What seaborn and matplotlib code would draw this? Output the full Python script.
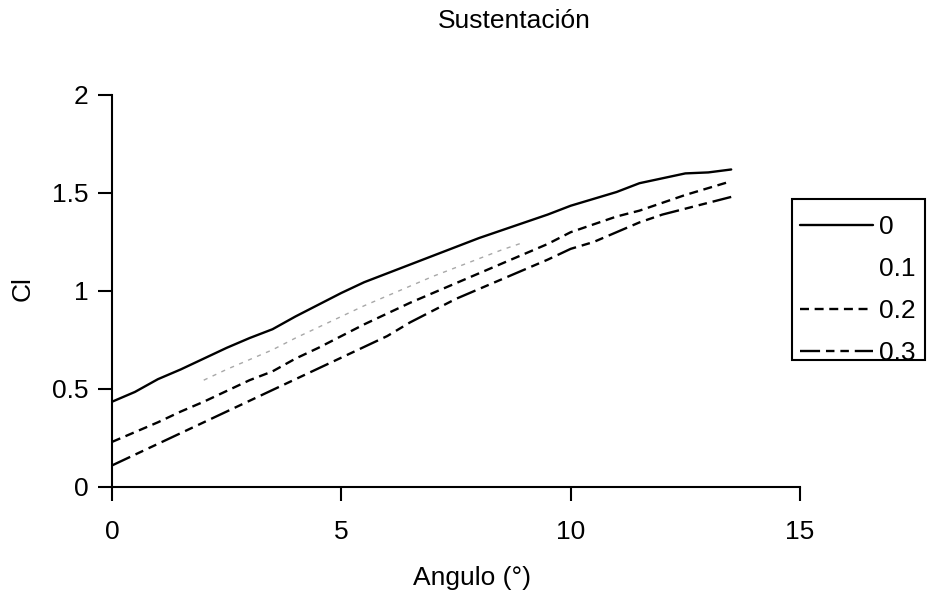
import numpy as np
import pandas as pd
import matplotlib
matplotlib.use("Agg")
import matplotlib.pyplot as plt
import seaborn as sns
from matplotlib.patches import Rectangle
from matplotlib.lines import Line2D

angles = [0, 0.5, 1, 1.5, 2, 2.5, 3, 3.5, 4, 4.5, 5, 5.5, 6, 6.5, 7, 7.5, 8,
          8.5, 9, 9.5, 10, 10.5, 11, 11.5, 12, 12.5, 13, 13.5]
cl_0 = [0.435, 0.485, 0.55, 0.60, 0.655, 0.71, 0.76, 0.805, 0.87, 0.93, 0.99,
        1.045, 1.09, 1.135, 1.18, 1.225, 1.27, 1.31, 1.35, 1.39, 1.435, 1.47,
        1.505, 1.55, 1.575, 1.60, 1.605, 1.62]
cl_01 = [np.nan, np.nan, np.nan, np.nan, 0.545, 0.60, 0.65, 0.70, 0.76, 0.815,
         0.87, 0.925, 0.975, 1.025, 1.075, 1.12, 1.165, 1.21, 1.25, np.nan,
         np.nan, np.nan, np.nan, np.nan, np.nan, np.nan, np.nan, np.nan]
cl_02 = [0.23, 0.28, 0.33, 0.385, 0.435, 0.49, 0.545, 0.59, 0.655, 0.71, 0.77,
         0.83, 0.885, 0.94, 0.99, 1.04, 1.09, 1.14, 1.19, 1.24, 1.30, 1.34,
         1.38, 1.41, 1.45, 1.49, 1.525, 1.56]
cl_03 = [0.11, 0.165, 0.22, 0.275, 0.33, 0.385, 0.44, 0.495, 0.55, 0.605, 0.66,
         0.715, 0.77, 0.84, 0.90, 0.96, 1.01, 1.06, 1.11, 1.16, 1.215, 1.25,
         1.30, 1.35, 1.39, 1.42, 1.45, 1.48]
series_labels = ["0", "0.1", "0.2", "0.3"]

x_ticks = [0, 5, 10, 15]
y_ticks = [0, 0.5, 1, 1.5, 2]
y_ticklabels = ["0", "0.5", "1", "1.5", "2"]

sns.set_style("ticks")
plt.rcParams['font.family'] = ['Liberation Sans', 'DejaVu Sans']
plt.rcParams['text.color'] = 'black'
FS = 19

W, H = 928, 599
fig = plt.figure(figsize=(W / 100, H / 100), dpi=100)
ax = fig.add_axes([112 / W, 1 - 487 / H, (800 - 112) / W, (487 - 95) / H])

LW = 1.7
styles = {
    "0": dict(color="black", lw=LW, ls="-"),
    "0.1": dict(color="#a8a8a8", lw=1.0, ls=(0, (3, 4))),
    "0.2": dict(color="black", lw=LW, ls=(0, (3.8, 2.4))),
    "0.3": dict(color="black", lw=LW, ls=(0, (8.5, 2.5, 3.6, 2.5, 3.6, 2.5))),
}

for lab, vals in zip(series_labels, [cl_0, cl_01, cl_02, cl_03]):
    df = pd.DataFrame({"Angulo": angles, "Cl": vals}).dropna()
    st = styles[lab]
    sns.lineplot(data=df, x="Angulo", y="Cl", ax=ax, color=st["color"],
                 linewidth=st["lw"], linestyle=st["ls"], label=lab,
                 legend=False)

ax.set_xlim(0, 15)
ax.set_ylim(0, 2)
ax.set_xticks(x_ticks)
ax.set_xticklabels([str(t) for t in x_ticks])
ax.set_yticks(y_ticks)
ax.set_yticklabels(y_ticklabels)
ax.tick_params(axis='both', direction='out', length=10, width=1.5,
               labelsize=FS, colors='black')
ax.tick_params(axis='x', pad=14)
ax.tick_params(axis='y', pad=7)
for s in ["top", "right"]:
    ax.spines[s].set_visible(False)
for s in ["left", "bottom"]:
    ax.spines[s].set_linewidth(1.5)
    ax.spines[s].set_color("black")
ax.set_xlabel("")
ax.set_ylabel("")

fig.text(514 / W, 1 - 28 / H, "Sustentación", ha="center", va="baseline",
         fontsize=FS, color="black")
fig.text(472 / W, 1 - 585 / H, "Angulo (°)", ha="center", va="baseline",
         fontsize=FS, color="black")
fig.text(22.5 / W, 1 - 289 / H, "Cl", ha="center", va="center",
         rotation=90, fontsize=FS, color="black")

leg_handles = []
for lab in series_labels:
    st = styles[lab]
    if lab == "0.1":
        leg_handles.append(Line2D([], [], color="none", lw=st["lw"]))
    else:
        leg_handles.append(Line2D([], [], color=st["color"], lw=st["lw"],
                                  linestyle=st["ls"]))
leg = fig.legend(leg_handles, series_labels, loc="upper left",
                 bbox_to_anchor=(800 / W, 1 - 215 / H), frameon=False,
                 fontsize=FS, handlelength=2.75, handletextpad=0.25,
                 labelspacing=0.68, borderaxespad=0, borderpad=0)
fig.patches.append(Rectangle((792 / W, 1 - 360 / H), (925 - 792) / W,
                             (360 - 199) / H, transform=fig.transFigure,
                             fill=False, edgecolor="black", linewidth=1.5))

fig.savefig("out.png", dpi=100)
